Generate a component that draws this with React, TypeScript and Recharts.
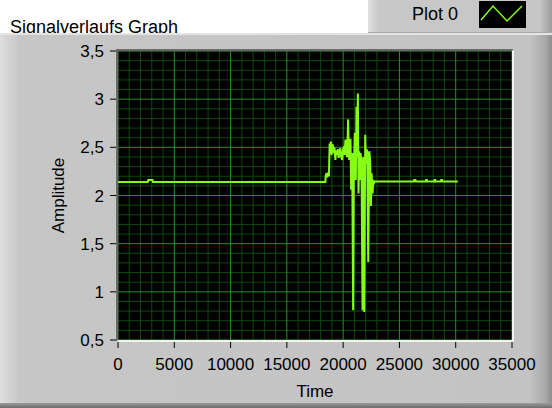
import React from "react";
import { LineChart, Line, XAxis, YAxis, CartesianGrid, ReferenceLine } from "recharts";

const seriesName = "Plot 0";

// time stamps of the signal samples
const times = [
  0, 2650, 2690, 3060, 3100, 18420, 18450, 18520, 18600, 18680, 18740, 18800, 18860, 18923,
  18970, 19012, 19080, 19161, 19230, 19310, 19380, 19459, 19530, 19608, 19680, 19757, 19830,
  19906, 19980, 20055, 20130, 20204, 20280, 20353, 20442, 20500, 20532, 20600, 20651, 20711,
  20760, 20800, 20889, 20949, 21000, 21038, 21090, 21127, 21187, 21250, 21307, 21366, 21426,
  21485, 21545, 21600, 21634, 21724, 21790, 21813, 21873, 21962, 22010, 22052, 22100, 22141,
  22230, 22320, 22380, 22409, 22469, 22528, 22580, 22618, 22677, 22740, 22797, 26280, 26310,
  26420, 26450, 27330, 27360, 27440, 27470, 28080, 28110, 28180, 28210, 28680, 28710, 28780,
  28810, 30190,
];

const amplitude = [
  2.14, 2.14, 2.16, 2.16, 2.14, 2.14, 2.2, 2.23, 2.19, 2.24, 2.2, 2.54, 2.5, 2.56,
  2.42, 2.47, 2.53, 2.44, 2.5, 2.37, 2.47, 2.42, 2.48, 2.39, 2.46, 2.49, 2.4,
  2.37, 2.46, 2.51, 2.42, 2.58, 2.45, 2.4, 2.79, 2.44, 2.37, 2.48, 2.59, 2.06,
  2.36, 2.44, 0.81, 2.33, 2.48, 2.65, 2.25, 2.16, 2.92, 2.4, 3.06, 2.02, 2.46,
  2.16, 2.44, 2.38, 2.33, 0.81, 2.4, 2.37, 0.79, 2.63, 2.38, 2.33, 2.48, 2.44,
  1.31, 2.46, 2.4, 2.33, 1.89, 2.23, 2.1, 2.02, 2.16, 2.13, 2.145, 2.145, 2.16,
  2.16, 2.145, 2.145, 2.16, 2.16, 2.145, 2.145, 2.16, 2.16, 2.145, 2.145, 2.16, 2.16,
  2.145, 2.145,
];

const timeTicks = [0, 5000, 10000, 15000, 20000, 25000, 30000, 35000];
const ampTicks = [0.5, 1, 1.5, 2, 2.5, 3, 3.5];

const minorTime = Array.from({ length: 36 }, (_, i) => i * 1000).filter((t) => t % 5000 !== 0);
const minorAmp = Array.from({ length: 31 }, (_, i) => Math.round((0.5 + i * 0.1) * 10) / 10).filter(
  (v) => !ampTicks.includes(v)
);

const data = times.map((t, i) => ({ t, v: amplitude[i] }));

const FONT = "'Liberation Sans', Arial, sans-serif";
const LINE = "#86ff14";
const MAJOR = "#229222";
const MINOR = "#0d4a0d";

const comma = (v: number) => String(v).replace(".", ",");

export default function App() {
  return (
    <div style={{ position: "absolute", left: 0, top: 0, width: 552, height: 408, background: "#fff", overflow: "hidden", fontFamily: FONT }}>
      <div style={{ position: "absolute", left: 10, top: 17, fontSize: 18, lineHeight: "20px", color: "#000" }}>
        Signalverlaufs Graph
      </div>

      {/* panel */}
      <div
        style={{
          position: "absolute", left: 0, top: 33, width: 552, height: 375,
          background: "linear-gradient(to right, #dedede 0px, #c6c6c6 20px, #c3c3c3 530px, #a9a9a9 545px, #8e8e8e 552px)",
          borderTop: "2px solid #e4e4e4", boxSizing: "border-box",
        }}
      />
      <div style={{ position: "absolute", left: 0, top: 403, width: 552, height: 5, background: "linear-gradient(#9a9a9a, #6c6c6c)" }} />

      <div style={{ position: "absolute", left: 0, top: 0 }}>
        <LineChart width={552} height={408} data={data} margin={{ top: 51, right: 40, bottom: 0, left: 0 }}>
          <CartesianGrid fill="#000" horizontal={false} vertical={false} />
          {minorTime.map((t) => (
            <ReferenceLine key={"mx" + t} x={t} stroke={MINOR} strokeWidth={1} />
          ))}
          {minorAmp.map((v) => (
            <ReferenceLine key={"my" + v} y={v} stroke={MINOR} strokeWidth={1} />
          ))}
          {timeTicks.map((t) => (
            <ReferenceLine key={"Mx" + t} x={t} stroke={MAJOR} strokeWidth={1} />
          ))}
          {ampTicks.map((v) => (
            <ReferenceLine key={"My" + v} y={v} stroke={MAJOR} strokeWidth={1} />
          ))}
          <XAxis
            dataKey="t"
            type="number"
            domain={[0, 35000]}
            ticks={timeTicks}
            interval={0}
            allowDataOverflow
            height={68}
            axisLine={false}
            tickSize={8}
            tickMargin={10}
            tickLine={{ stroke: "#000" }}
            tick={{ fill: "#000", fontSize: 17, fontFamily: FONT }}
            label={{ value: "Time", position: "insideBottom", offset: 11, fill: "#000", fontSize: 17, fontFamily: FONT }}
          />
          <YAxis
            type="number"
            domain={[0.5, 3.5]}
            ticks={ampTicks}
            interval={0}
            allowDataOverflow
            width={118}
            axisLine={false}
            tickSize={8}
            tickMargin={6}
            tickFormatter={comma}
            tickLine={{ stroke: "#000" }}
            tick={{ fill: "#000", fontSize: 17, fontFamily: FONT }}
            label={{ value: "Amplitude", angle: -90, position: "center", dx: -1, fill: "#000", fontSize: 17, fontFamily: FONT }}
          />
          <Line
            name={seriesName}
            dataKey="v"
            type="linear"
            stroke={LINE}
            strokeWidth={2}
            dot={false}
            isAnimationActive={false}
          />
        </LineChart>
      </div>

      {/* sunken border of the plot area */}
      <div
        style={{
          position: "absolute", left: 116, top: 49, width: 398, height: 293, boxSizing: "border-box",
          borderTop: "2px solid #6a6a6a", borderLeft: "2px solid #6a6a6a",
          borderBottom: "2px solid #f2f2f2", borderRight: "2px solid #f2f2f2", pointerEvents: "none",
        }}
      />

      {/* legend */}
      <div
        style={{
          position: "absolute", left: 368, top: 0, width: 184, height: 32,
          background: "linear-gradient(to right, #e2e2e2 0px, #c8c8c8 10px, #c6c6c6 172px, #9c9c9c 184px)",
          borderBottom: "1px solid #a8a8a8",
        }}
      >
        <div style={{ position: "absolute", left: 44, top: 4, fontSize: 18, lineHeight: "20px", color: "#000" }}>{seriesName}</div>
        <svg style={{ position: "absolute", left: 111, top: 1 }} width={47} height={27}>
          <rect x={0} y={0} width={47} height={27} fill="#000" />
          <polyline points="2,19 14,5 28,20 43,5" fill="none" stroke={LINE} strokeWidth={1.5} />
        </svg>
      </div>
    </div>
  );
}
